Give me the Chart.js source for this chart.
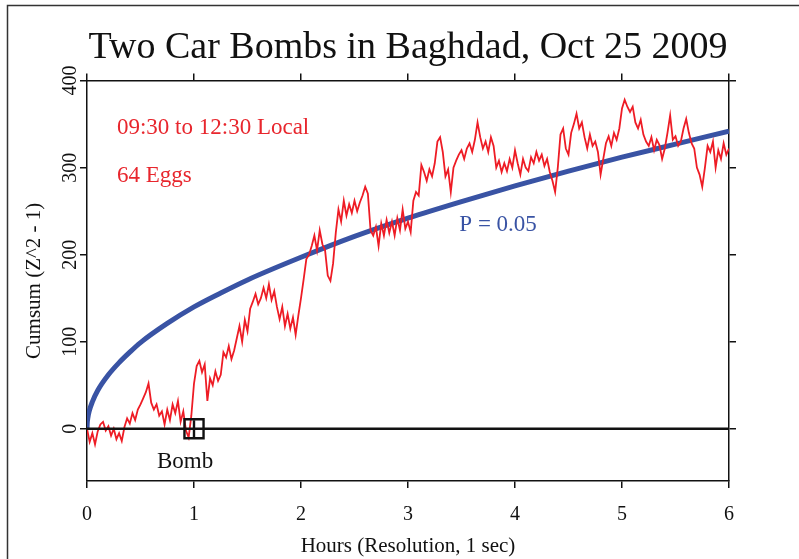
<!DOCTYPE html>
<html>
<head>
<meta charset="utf-8">
<script src="https://cdn.jsdelivr.net/npm/chart.js@4.4.1/dist/chart.umd.min.js"></script>
<style>
  body { margin: 0; background: #fff; }
  canvas { display: block; }
</style>
</head>
<body>
<canvas id="eggChart" width="799" height="559"></canvas>
<script>
// tick labels
const xTicks = [0, 1, 2, 3, 4, 5, 6];
const yTicks = [0, 100, 200, 300, 400];

// cumulative deviation (Z^2 - 1), one reading every 0.025 h
const sampleStep = 0.025;
const cumsum = [
  0, -15, -5, -18, -3, 5, 8, -2, 3, -8, 0, -12, -5, -14, 2, 12, 6, 18, 10, 22,
  28, 35, 42, 52, 30, 22, 28, 15, 20, 5, 22, 10, 28, 18, 32, 8, 20, -2, -10, 15, 52,
  72, 78, 65, 74, 32, 58, 50, 66, 55, 62, 88, 82, 95, 80, 90, 104, 118, 100, 125, 112,
  138, 146, 155, 143, 150, 162, 150, 166, 148, 158, 140, 126, 140, 118, 132, 115, 128, 108, 130, 150,
  172, 195, 200, 210, 222, 205, 228, 212, 205, 176, 170, 190, 225, 252, 238, 262, 245, 258, 248, 262,
  250, 260, 268, 278, 270, 228, 222, 232, 210, 236, 222, 240, 225, 238, 222, 242, 228, 252, 230, 238,
  226, 262, 272, 268, 303, 295, 285, 298, 290, 305, 330, 335, 318, 290, 298, 272, 300, 308, 315, 320,
  310, 322, 328, 318, 332, 352, 335, 322, 330, 318, 335, 325, 300, 308, 295, 305, 296, 310, 300, 320,
  305, 292, 310, 300, 296, 312, 305, 318, 308, 315, 302, 310, 295, 285, 272, 300, 338, 345, 322, 315,
  340, 350, 362, 345, 352, 335, 322, 338, 325, 330, 318, 292, 310, 328, 336, 325, 340, 332, 345, 368,
  378, 370, 364, 370, 352, 345, 355, 338, 330, 325, 335, 320, 332, 326, 310, 322, 340, 360, 332, 336,
  325, 330, 345, 356, 340, 328, 322, 300, 292, 278, 300, 325, 318, 330, 300, 320, 310, 328, 315, 322
];

// P = 0.05 envelope
const envHours = [0, 0.002, 0.01, 0.02, 0.05, 0.1, 0.2, 0.3, 0.4, 0.5, 0.75, 1, 1.25, 1.5, 2, 2.5, 3, 3.5, 4, 4.5, 5, 5.5, 6];
const envValues = [0, 6, 14, 20, 31, 44, 62, 76, 88, 99, 121, 140, 156, 171, 197, 221, 242, 261, 279, 296, 312, 327, 342];

// event marker
const bombHour = 1;

const serif = 'Liberation Serif, Times New Roman, serif';

const notes = [
  { text: '09:30 to 12:30 Local', x: 0.28, y: 346, color: '#e8262d', align: 'left' },
  { text: '64 Eggs', x: 0.28, y: 290, color: '#e8262d', align: 'left' },
  { text: 'P = 0.05', x: 3.48, y: 234, color: '#3953a4', align: 'left' },
  { text: 'Bomb', x: 0.916, y: -38, color: '#111', align: 'center' }
];

const decor = {
  id: 'decor',
  beforeDraw(chart) {
    const c = chart.ctx;
    c.save();
    c.strokeStyle = '#333';
    c.lineWidth = 1.5;
    c.beginPath();
    c.moveTo(7.5, chart.height);
    c.lineTo(7.5, 5.5);
    c.lineTo(chart.width, 5.5);
    c.stroke();
    c.restore();
  },
  afterDraw(chart) {
    const c = chart.ctx;
    const xs = chart.scales.x, ys = chart.scales.y;
    c.save();
    c.font = '23px ' + serif;
    c.textBaseline = 'middle';
    notes.forEach(n => {
      c.fillStyle = n.color;
      c.textAlign = n.align;
      c.fillText(n.text, xs.getPixelForValue(n.x), ys.getPixelForValue(n.y));
    });
    c.restore();
  }
};

const hiddenLabels = { callback: () => '' };
const axisGrid = { drawOnChartArea: false, tickLength: 7, color: '#111', lineWidth: 1.5 };
const axisBorder = { color: '#111', width: 1.5 };
const setTicks = vals => scale => { scale.ticks = vals.map(v => ({ value: v })); };

new Chart(document.getElementById('eggChart'), {
  type: 'line',
  data: {
    datasets: [
      {
        label: 'Bomb',
        data: [{ x: bombHour, y: 0 }, { x: bombHour, y: 0 }],
        showLine: false,
        pointStyle: ['rect', 'line'],
        pointRadius: [13.5, 8.5],
        rotation: [0, 90],
        pointBorderColor: '#111',
        pointBackgroundColor: 'rgba(0,0,0,0)',
        pointBorderWidth: 2.4
      },
      {
        label: 'zero',
        data: [{ x: xTicks[0], y: 0 }, { x: xTicks[xTicks.length - 1], y: 0 }],
        borderColor: '#111',
        borderWidth: 2.5,
        pointRadius: 0
      },
      {
        label: 'Cumsum',
        data: cumsum.map((v, i) => ({ x: i * sampleStep, y: v })),
        borderColor: '#ee1c25',
        borderWidth: 1.8,
        pointRadius: 0,
        tension: 0
      },
      {
        label: 'P = 0.05',
        data: envHours.map((h, i) => ({ x: h, y: envValues[i] })),
        borderColor: '#3953a4',
        borderWidth: 5,
        pointRadius: 0,
        cubicInterpolationMode: 'monotone'
      }
    ]
  },
  options: {
    responsive: false,
    animation: false,
    layout: { padding: 0 },
    plugins: {
      legend: { display: false },
      tooltip: { enabled: false },
      title: {
        display: true,
        fullSize: false,
        text: 'Two Car Bombs in Baghdad, Oct 25 2009',
        color: '#111',
        font: { family: serif, size: 38, weight: 'normal' },
        padding: { top: 25, bottom: 0 }
      }
    },
    scales: {
      x: {
        type: 'linear',
        position: 'bottom',
        min: 0,
        max: 6,
        afterBuildTicks: setTicks(xTicks),
        afterFit: s => { s.height = 78; },
        grid: axisGrid,
        border: axisBorder,
        ticks: { color: '#111', font: { family: serif, size: 20 }, padding: 15 },
        title: {
          display: true,
          text: 'Hours (Resolution, 1 sec)',
          color: '#111',
          font: { family: serif, size: 21 },
          padding: { top: 0, bottom: 0 }
        }
      },
      x2: {
        type: 'linear',
        position: 'top',
        min: 0,
        max: 6,
        afterBuildTicks: setTicks(xTicks),
        afterFit: s => { s.height = 10; },
        grid: axisGrid,
        border: axisBorder,
        ticks: hiddenLabels
      },
      y: {
        type: 'linear',
        position: 'left',
        min: -60,
        max: 400,
        afterBuildTicks: setTicks(yTicks),
        afterFit: s => { s.width = 87; },
        grid: axisGrid,
        border: axisBorder,
        ticks: {
          color: '#111',
          font: { family: serif, size: 20 },
          minRotation: 90,
          maxRotation: 90,
          crossAlign: 'center',
          padding: -6
        },
        title: {
          display: true,
          text: 'Cumsum (Z^2 - 1)',
          color: '#111',
          font: { family: serif, size: 21 },
          padding: { top: 22, bottom: 0 }
        }
      },
      y2: {
        type: 'linear',
        position: 'right',
        min: -60,
        max: 400,
        afterBuildTicks: setTicks(yTicks),
        afterFit: s => { s.width = 70; },
        grid: axisGrid,
        border: axisBorder,
        ticks: hiddenLabels
      }
    }
  },
  plugins: [decor]
});
</script>
</body>
</html>
